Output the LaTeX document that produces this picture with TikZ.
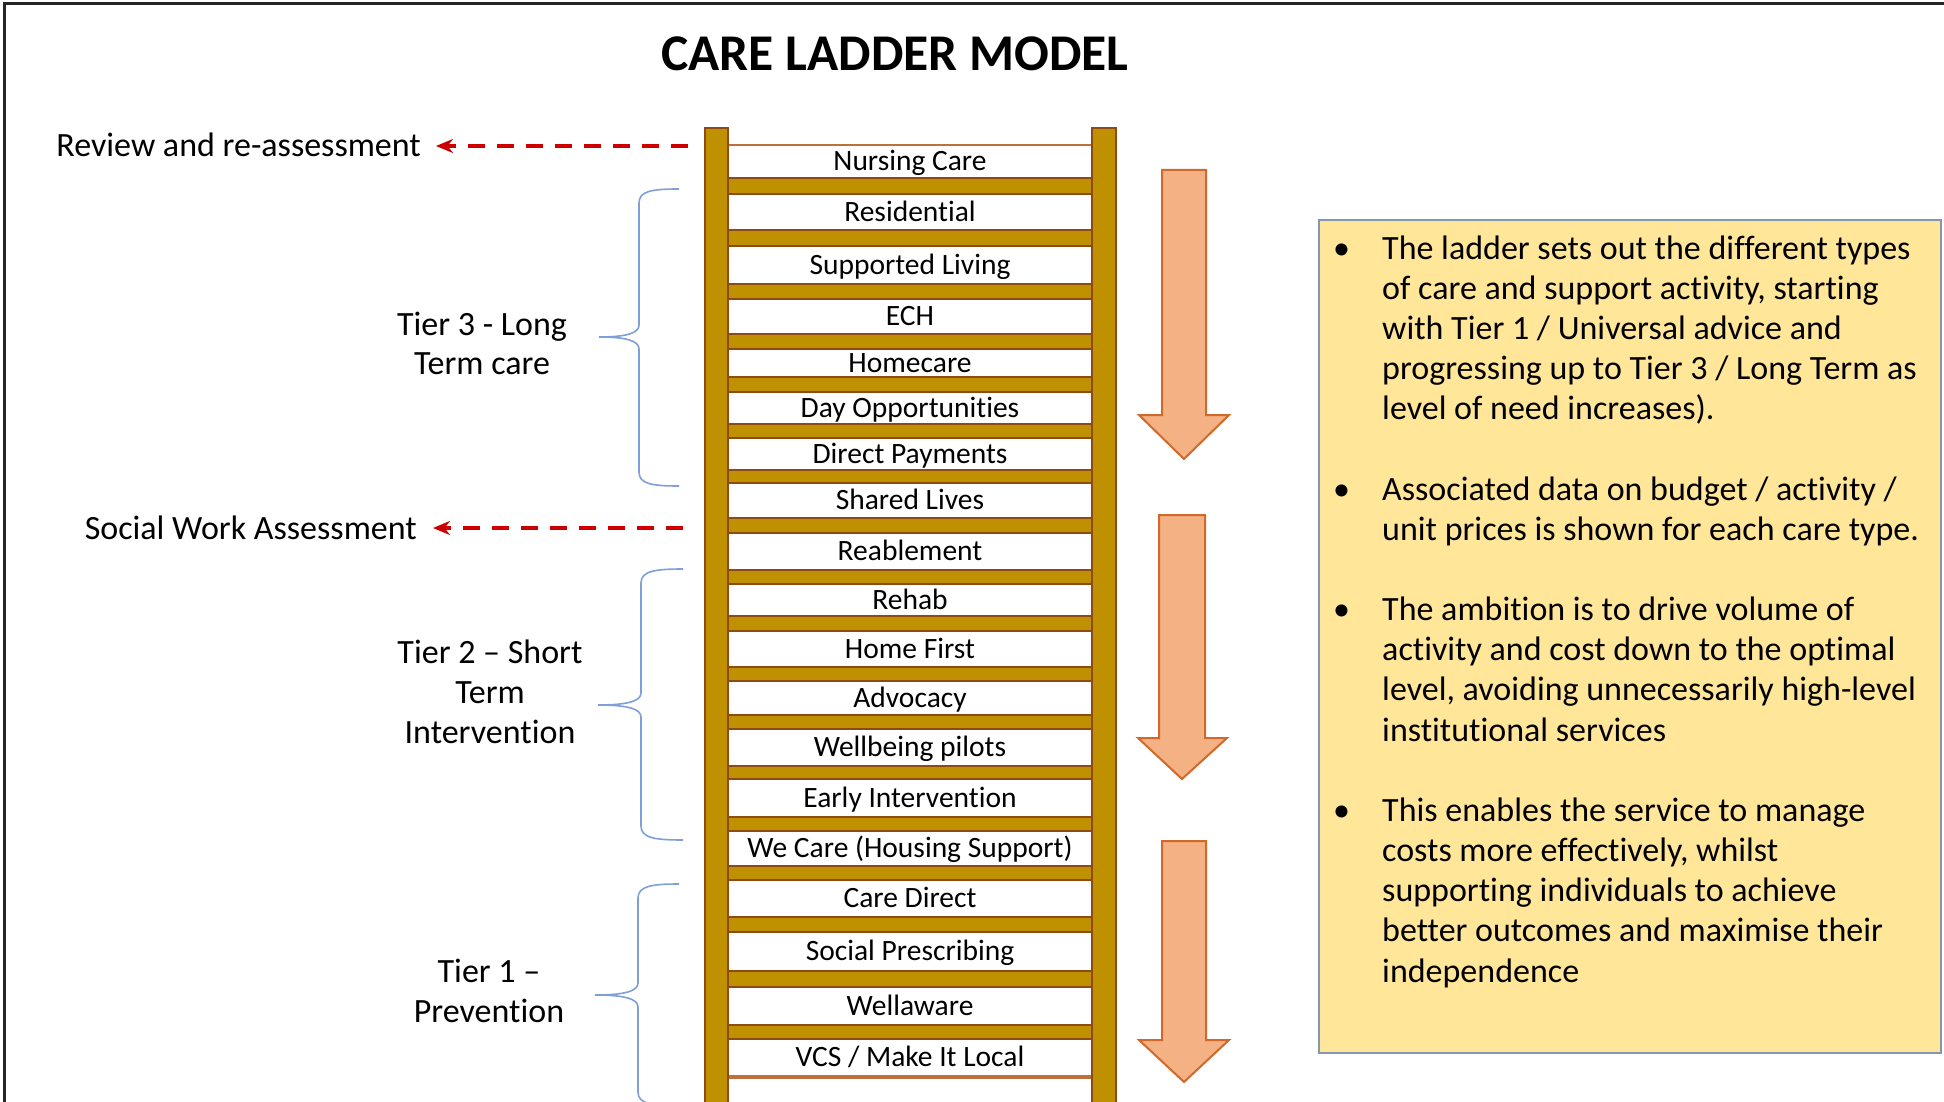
\documentclass[tikz,border=0pt]{standalone}
\usepackage{fontspec}
\setmainfont{Carlito}[Ligatures=CommonOff]
\usetikzlibrary{arrows.meta}

\definecolor{wood}{HTML}{BF9000}
\definecolor{woodedge}{HTML}{8E4A12}
\definecolor{stepedge}{HTML}{C0703A}
\definecolor{flowfill}{HTML}{F4B183}
\definecolor{flowedge}{HTML}{D0692A}
\definecolor{bracecol}{HTML}{7F9FD8}
\definecolor{assess}{HTML}{CC0000}
\definecolor{notefill}{HTML}{FFE699}
\definecolor{noteedge}{HTML}{8497B0}

\tikzset{
  ladderpart/.style={fill=wood, draw=woodedge, line width=2pt},
  stepbox/.style={draw=stepedge, line width=1.3pt, fill=white, minimum width=364pt,
    inner sep=0pt, text height=18.7pt, text depth=0pt, font=\fontsize{29.5}{35}\selectfont},
  sidelabel/.style={inner sep=0pt, font=\fontsize{34}{40}\selectfont},
  notetext/.style={inner sep=0pt, anchor=base west, font=\fontsize{34}{40}\selectfont},
  dasharrow/.style={draw=assess, line width=3.5pt, dash pattern=on 17pt off 12pt,
    -{Stealth[length=17pt,width=14pt]}},
  tierbrace/.style={draw=bracecol, line width=1.6pt},
  flowarrow/.style={fill=flowfill, draw=flowedge, line width=2pt, line join=miter},
}

\begin{document}
\begin{tikzpicture}[x=1pt,y=-1pt]
\useasboundingbox (0,0) rectangle (1944,1102);
\clip (0,0) rectangle (1944,1102);

% outer frame (top and left edges)
\draw[line width=3pt, black!85] (4,1110) -- (4,4) -- (1950,4);

% title
\node[font=\fontsize{51.5}{60}\selectfont\bfseries, inner sep=0pt, anchor=base] (title) at (895,71) {CARE LADDER MODEL};

% ladder steps (white label boxes)
\foreach \t/\b/\s [count=\i] in {
  145/178/{Nursing Care}, 194/230/{Residential}, 246/284/{Supported Living},
  299/334/{ECH}, 349/377/{Homecare}, 392/424/{Day Opportunities},
  438/470/{Direct Payments}, 483/518/{Shared Lives}, 533/570/{Reablement},
  584/616/{Rehab}, 631/667/{Home First}, 681/715/{Advocacy},
  729/766/{Wellbeing pilots}, 779/817/{Early Intervention},
  831/866/{We Care (Housing Support)}, 880/917/{Care Direct},
  932/971/{Social Prescribing}, 987/1025/{Wellaware}, 1039/1076/{VCS / Make It Local}}
  \node[stepbox, minimum height={\b-\t}] (care\i) at (910,{(\t+\b)/2}) {\s};
\draw[draw=stepedge, line width=1.3pt, fill=white] (728,1078) rectangle (1092,1120);

% rungs
\foreach \t/\b in {178/194, 230/246, 284/299, 334/349, 377/392, 424/438, 470/483,
  518/533, 570/584, 616/631, 667/681, 715/729, 766/779, 817/831, 866/880,
  917/932, 971/987, 1025/1039}
  \filldraw[ladderpart] (727,\t) rectangle (1093,\b);

% rails
\filldraw[ladderpart] (705,128) rectangle (728,1115);
\filldraw[ladderpart] (1092,128) rectangle (1116,1115);

% assessment markers
\node[sidelabel, anchor=base east] (review) at (421,157) {Review and re-assessment};
\coordinate (revfrom) at (688,146);
\draw[dasharrow, shorten >=15pt] (revfrom) -- (revfrom -| review.east);

\node[sidelabel, anchor=base east] (swa) at (417,539) {Social Work Assessment};
\coordinate (swafrom) at (683,528);
\draw[dasharrow, shorten >=16pt] (swafrom) -- (swafrom -| swa.east);

% tier labels
\node[sidelabel, anchor=base] (t3a) at (482,335) {Tier 3 - Long};
\node[sidelabel, anchor=base] (t3b) at (482,374) {Term care};
\node[sidelabel, anchor=base] (t2a) at (490,663) {Tier 2 – Short};
\node[sidelabel, anchor=base] (t2b) at (490,703) {Term};
\node[sidelabel, anchor=base] (t2c) at (490,743) {Intervention};
\node[sidelabel, anchor=base] (t1a) at (489,982) {Tier 1 –};
\node[sidelabel, anchor=base] (t1b) at (489,1022) {Prevention};

% tier braces
\draw[tierbrace] (679,189) .. controls (652,189) and (639,191) .. (639,203) -- (639,325)
  .. controls (639,333) and (627,337) .. (599,337)
  .. controls (627,337) and (639,341) .. (639,349) -- (639,472)
  .. controls (639,484) and (652,486) .. (679,486);
\draw[tierbrace] (683,569) .. controls (655,569) and (641,571) .. (641,583) -- (641,693)
  .. controls (641,701) and (628,705) .. (598,705)
  .. controls (628,705) and (641,709) .. (641,717) -- (641,826)
  .. controls (641,838) and (655,840) .. (683,840);
\draw[tierbrace] (679,884) .. controls (652,884) and (638,886) .. (638,898) -- (638,983)
  .. controls (638,991) and (625,995) .. (595,995)
  .. controls (625,995) and (638,999) .. (638,1007) -- (638,1092)
  .. controls (638,1104) and (652,1106) .. (679,1106);

% downward flow arrows
\filldraw[flowarrow] (1162,170) -- (1206,170) -- (1206,415) -- (1229,415) -- (1184,459)
  -- (1139,415) -- (1162,415) -- cycle;
\filldraw[flowarrow] (1159,515) -- (1205,515) -- (1205,738) -- (1227,738) -- (1182,779)
  -- (1138,738) -- (1159,738) -- cycle;
\filldraw[flowarrow] (1162,841) -- (1206,841) -- (1206,1040) -- (1229,1040) -- (1184,1082)
  -- (1139,1040) -- (1162,1040) -- cycle;

% notes panel
\node[draw=noteedge, fill=notefill, line width=2pt, minimum width=622pt, minimum height=833pt,
  anchor=north west, inner sep=0pt] (panel) at (1318,219) {};

\foreach \k in {0,6,9,14}
  \node[notetext] (bul\k) at (1333,{259+40.17*\k}) {\textbullet};

\foreach \ln [count=\k from 0] in {
  The ladder sets out the different types,
  {of care and support activity, starting},
  with Tier 1 / Universal advice and,
  progressing up to Tier 3 / Long Term as,
  level of need increases).}
  \node[notetext] (pa\k) at (1382,{259+40.17*\k}) {\ln};

\foreach \ln [count=\k from 6] in {
  Associated data on budget / activity /,
  unit prices is shown for each care type.}
  \node[notetext] (pb\k) at (1382,{259+40.17*\k}) {\ln};

\foreach \ln [count=\k from 9] in {
  The ambition is to drive volume of,
  activity and cost down to the optimal,
  {level, avoiding unnecessarily high-level},
  institutional services}
  \node[notetext] (pc\k) at (1382,{259+40.17*\k}) {\ln};

\foreach \ln [count=\k from 14] in {
  This enables the service to manage,
  {costs more effectively, whilst},
  supporting individuals to achieve,
  better outcomes and maximise their,
  independence}
  \node[notetext] (pd\k) at (1382,{259+40.17*\k}) {\ln};

\end{tikzpicture}
\end{document}
